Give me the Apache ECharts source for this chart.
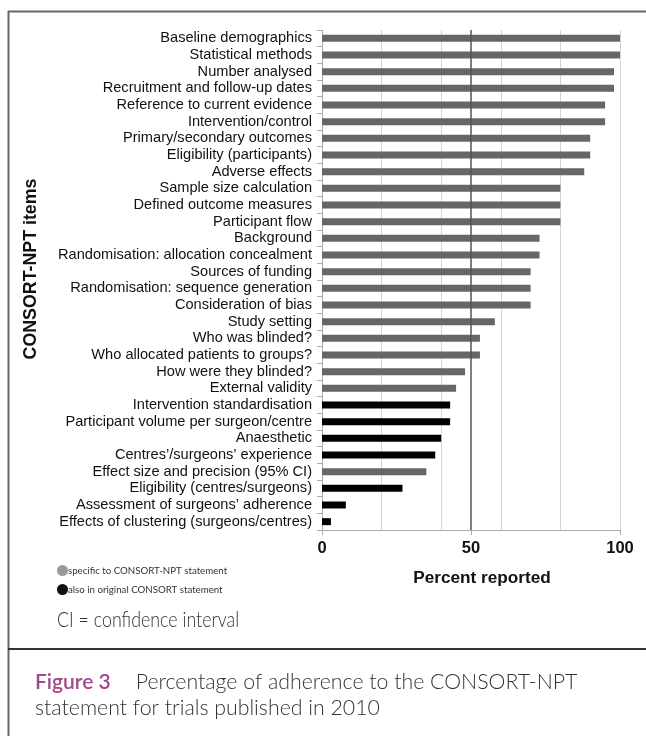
<!DOCTYPE html>
<html style="height: 100%">
<head>
  <meta charset="utf-8" />
  <title>CONSORT-NPT adherence</title>
  <script src="https://cdn.jsdelivr.net/npm/echarts@6.0.0/dist/echarts.min.js"></script>
</head>
<body style="height: 100%; margin: 0; background: #fff">
  <div id="chart" style="width: 646px; height: 736px"></div>
  <script>
    const items = [
      'Baseline demographics', 'Statistical methods', 'Number analysed',
      'Recruitment and follow-up dates', 'Reference to current evidence',
      'Intervention/control', 'Primary/secondary outcomes', 'Eligibility (participants)',
      'Adverse effects', 'Sample size calculation', 'Defined outcome measures',
      'Participant flow', 'Background', 'Randomisation: allocation concealment',
      'Sources of funding', 'Randomisation: sequence generation', 'Consideration of bias',
      'Study setting', 'Who was blinded?', 'Who allocated patients to groups?',
      'How were they blinded?', 'External validity', 'Intervention standardisation',
      'Participant volume per surgeon/centre', 'Anaesthetic', 'Centres\u2019/surgeons\u2019 experience',
      'Effect size and precision (95% CI)', 'Eligibility (centres/surgeons)',
      'Assessment of surgeons\u2019 adherence', 'Effects of clustering (surgeons/centres)'
    ];
    const percent = [100, 100, 98, 98, 95, 95, 90, 90, 88, 80, 80, 80, 73, 73, 70, 70, 70,
                     58, 53, 53, 48, 45, 43, 43, 40, 38, 35, 27, 8, 3];
    // 'npt' = specific to CONSORT-NPT statement, 'orig' = also in original CONSORT
    const group = ['npt', 'npt', 'npt', 'npt', 'npt', 'npt', 'npt', 'npt', 'npt', 'npt',
                   'npt', 'npt', 'npt', 'npt', 'npt', 'npt', 'npt', 'npt', 'npt', 'npt',
                   'npt', 'npt', 'orig', 'orig', 'orig', 'orig', 'npt', 'orig', 'orig', 'orig'];
    const legendNames = ['specific to CONSORT-NPT statement', 'also in original CONSORT statement'];

    const nptData = percent.map((v, i) => group[i] === 'npt' ? v : null);
    const origData = percent.map((v, i) => group[i] === 'orig' ? v : null);

    const chart = echarts.init(document.getElementById('chart'));

    chart.setOption({
      backgroundColor: '#fff',
      animation: false,
      grid: { left: 322, right: 26, top: 30, bottom: 206 },
      legend: {
        orient: 'vertical',
        left: 57,
        top: 565,
        icon: 'circle',
        itemWidth: 11,
        itemHeight: 11,
        itemGap: 8,
        padding: 0,
        textStyle: { fontFamily: 'Lato', fontSize: 9.7, color: '#333', padding: [0, 0, 0, -5] },
        data: [
          { name: legendNames[0], itemStyle: { color: '#999' } },
          { name: legendNames[1], itemStyle: { color: '#111' } }
        ]
      },
      xAxis: [
        {
          type: 'value', min: 0, max: 100, interval: 20,
          axisLine: { show: true, lineStyle: { color: '#aaa' } },
          axisTick: { show: false },
          axisLabel: { show: false },
          splitLine: { lineStyle: { color: '#d4d4d4' } }
        },
        {
          type: 'value', min: 0, max: 100, interval: 50, position: 'bottom',
          axisLine: { show: false },
          axisTick: { show: true, length: 5, lineStyle: { color: '#aaa' } },
          axisLabel: { margin: 10, fontFamily: 'Liberation Sans', fontWeight: 'bold', fontSize: 16.5, color: '#111' },
          splitLine: { show: false }
        }
      ],
      yAxis: {
        type: 'category',
        data: items,
        inverse: true,
        axisLine: { show: true, lineStyle: { color: '#aaa' } },
        axisTick: { show: true, length: 5, lineStyle: { color: '#aaa' } },
        axisLabel: { margin: 10, fontFamily: 'Liberation Sans', fontSize: 14.6, color: '#111', interval: 0 }
      },
      series: [
        {
          name: legendNames[0], type: 'bar', data: nptData,
          barWidth: 7, barGap: '-100%',
          itemStyle: { color: '#666' },
          markLine: {
            silent: true, symbol: 'none', label: { show: false },
            lineStyle: { color: '#555', width: 1.5, type: 'solid' },
            data: [{ xAxis: 50 }]
          }
        },
        {
          name: legendNames[1], type: 'bar', data: origData,
          barWidth: 7, barGap: '-100%',
          itemStyle: { color: '#000' }
        }
      ],
      graphic: [
        { type: 'line', shape: { x1: 8, y1: 11.5, x2: 646, y2: 11.5 }, style: { stroke: '#666', lineWidth: 2 } },
        { type: 'line', shape: { x1: 8.5, y1: 11, x2: 8.5, y2: 736 }, style: { stroke: '#666', lineWidth: 2 } },
        { type: 'line', shape: { x1: 8, y1: 649, x2: 646, y2: 649 }, style: { stroke: '#333', lineWidth: 2 } },
        {
          type: 'text', x: 31, y: 269, rotation: Math.PI / 2,
          style: { text: 'CONSORT-NPT items', font: 'bold 17.8px "Liberation Sans"', fill: '#111', align: 'center', verticalAlign: 'middle' }
        },
        {
          type: 'text', x: 482, y: 578,
          style: { text: 'Percent reported', font: 'bold 17.2px "Liberation Sans"', fill: '#111', align: 'center', verticalAlign: 'middle' }
        },
        {
          type: 'text', x: 57, y: 620, scaleX: 0.81,
          style: { text: 'CI = confidence interval', font: '300 22px Lato', fill: '#333', verticalAlign: 'middle' }
        },
        {
          type: 'text', left: 35, top: 672,
          style: {
            text: '{fig|Figure 3}{gap| }{txt|Percentage of adherence to the CONSORT-NPT}\n{txt|statement for trials published in 2010}',
            rich: {
              fig: { font: '600 21px Lato', fill: '#a3498a', lineHeight: 26 },
              gap: { width: 25, lineHeight: 26 },
              txt: { font: '300 21.3px Lato', fill: '#333', lineHeight: 26 }
            }
          }
        }
      ]
    });
  </script>
</body>
</html>
